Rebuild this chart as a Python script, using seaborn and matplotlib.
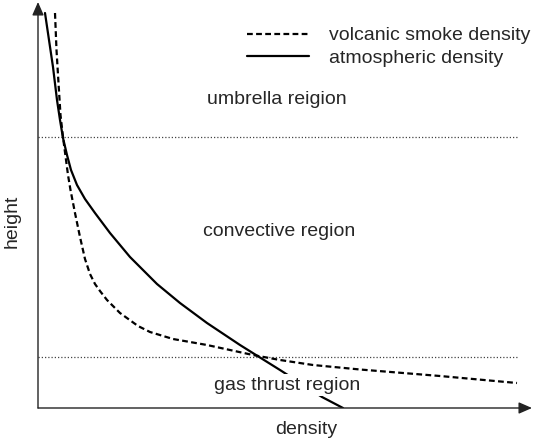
import matplotlib
matplotlib.use("Agg")
import matplotlib.pyplot as plt
import seaborn as sns
import pandas as pd

# Data (density, height), arbitrary units
atm_density = [7, 11, 15, 19, 22, 25, 29, 33, 39, 47, 57, 72, 92, 119, 142, 169, 202,
               242, 284, 305]
atm_height = [395, 368, 341, 308, 288, 270, 253, 238, 223, 209, 195, 175, 151, 124,
              105, 85, 63, 38, 11, 0]
smoke_density = [17, 18.5, 20.5, 22.5, 25, 26.7, 30, 32.5, 37, 42, 47, 52, 57, 62, 69,
                 82, 100, 112, 135, 169, 192, 215, 242, 275, 322, 402, 479]
smoke_height = [395, 358, 325, 293, 271, 258, 233, 218, 195, 171, 149, 134, 124, 117,
                108, 95, 82, 76, 69, 63, 58, 53, 48, 43, 38.5, 32, 25]
series_names = ["volcanic smoke density", "atmospheric density"]
boundary_heights = [271, 51]
region_labels = ["umbrella reigion", "convective region", "gas thrust region"]

df = pd.concat([
    pd.DataFrame({"density": smoke_density, "height": smoke_height, "series": series_names[0]}),
    pd.DataFrame({"density": atm_density, "height": atm_height, "series": series_names[1]}),
])

sns.set_style("white")
plt.rcParams["font.family"] = ["Liberation Sans", "DejaVu Sans"]

W, H = 547, 443
fig = plt.figure(figsize=(W / 100, H / 100), dpi=100)
x0, y0, x1, y1 = 38, 408, 532, 2
ax = fig.add_axes([x0 / W, (H - y0) / H, (x1 - x0) / W, (y0 - y1) / H])
ax.set_xlim(0, x1 - x0)
ax.set_ylim(0, y0 - y1)

sns.lineplot(data=df, x="density", y="height", style="series", hue="series",
             palette={series_names[0]: "black", series_names[1]: "black"},
             dashes={series_names[0]: (2.6, 1.5), series_names[1]: ""},
             sort=False, estimator=None, linewidth=1.6, ax=ax, zorder=2)
for ln in ax.lines:
    ln.set_solid_joinstyle("round")
    ln.set_dash_joinstyle("round")

for h in boundary_heights:
    ax.axhline(h, xmin=0, xmax=(518 - x0) / (x1 - x0), color="#444444",
               linestyle=(0, (1, 1.6)), linewidth=0.9, zorder=1)

for s in ax.spines.values():
    s.set_visible(False)
ax.set_xticks([])
ax.set_yticks([])
ax.set_xlabel("")
ax.set_ylabel("")

arrow = dict(arrowstyle="-|>,head_length=0.8,head_width=0.35", color="#222222",
             lw=1.0, shrinkA=0, shrinkB=0)
ax.annotate("", xy=(1, 0), xytext=(0, 0), xycoords="axes fraction",
            textcoords="axes fraction", arrowprops=arrow, annotation_clip=False)
ax.annotate("", xy=(0, 1), xytext=(0, 0), xycoords="axes fraction",
            textcoords="axes fraction", arrowprops=arrow, annotation_clip=False)

fs = 14
ax.text(277 - x0, y0 - 100, region_labels[0], ha="center", va="center", fontsize=fs)
ax.text(279.5 - x0, y0 - 232, region_labels[1], ha="center", va="center", fontsize=fs)
ax.text(287 - x0, y0 - 385, region_labels[2], ha="center", va="center", fontsize=fs,
        zorder=5, bbox=dict(facecolor="white", edgecolor="none", pad=1.5))

fig.text(306 / W, 1 - 430 / H, "density", ha="center", va="center", fontsize=fs)
fig.text(12 / W, 1 - 221 / H, "height", ha="center", va="center", fontsize=fs, rotation=90)

handles, labels = ax.get_legend_handles_labels()
ax.legend(handles, labels, loc="upper right", bbox_to_anchor=(1.012, 0.958),
          frameon=False, fontsize=fs, handlelength=3.2, handletextpad=1.03,
          labelspacing=0.25, borderaxespad=0)

fig.savefig("out.png", dpi=100)
